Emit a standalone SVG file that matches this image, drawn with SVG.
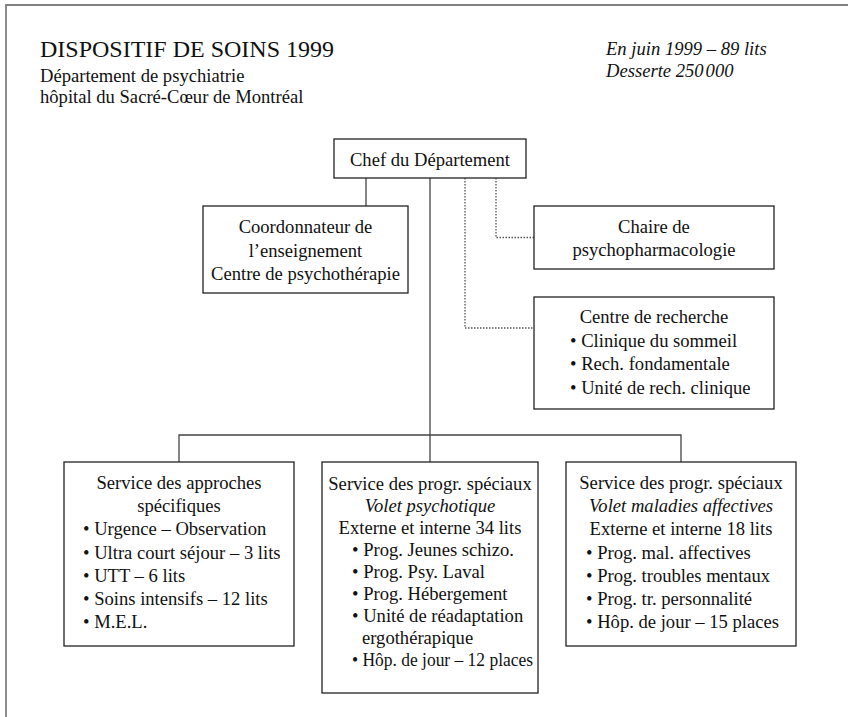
<svg xmlns="http://www.w3.org/2000/svg" width="848" height="717" viewBox="0 0 848 717">
<style>
text{font-family:"Liberation Serif","Times New Roman",serif;font-size:18.6px;fill:#111}
.c{text-anchor:middle}
.i{font-style:italic}
.box{fill:#fff;stroke:#222;stroke-width:1.3}
.ln{fill:none;stroke:#444;stroke-width:1.3}
.dt{fill:none;stroke:#555;stroke-width:1.3;stroke-dasharray:1.5 1.5}
</style>
<rect width="848" height="717" fill="#fff"/>
<path d="M6,717 V5 H848" fill="none" stroke="#808080" stroke-width="1.8"/>
<g id="header">
<text x="40" y="57" style="font-size:24px">DISPOSITIF DE SOINS 1999</text>
<text x="40" y="82">Département de psychiatrie</text>
<text x="40" y="103">hôpital du Sacré-Cœur de Montréal</text>
<text x="606" y="55" class="i">En juin 1999 – 89 lits</text>
<text x="606" y="77" class="i">Desserte 250<tspan style="font-size:8px"> </tspan>000</text>
</g>
<g id="connectors">
<path class="ln" d="M366,178 V206"/>
<path class="ln" d="M430,178 V462"/>
<path class="ln" d="M179,462 V435 H681 V462"/>
<path class="dt" d="M496,178 V237.5 H534"/>
<path class="dt" d="M465,178 V328 H534"/>
</g>
<g id="chef">
<rect class="box" x="334" y="139" width="192" height="39"/>
<text x="430" y="166" class="c">Chef du Département</text>
</g>
<g id="coordonnateur">
<rect class="box" x="203" y="206" width="205" height="87"/>
<text x="305.5" y="233" class="c">Coordonnateur de</text>
<text x="305.5" y="256.5" class="c">l’enseignement</text>
<text x="305.5" y="280" class="c">Centre de psychothérapie</text>
</g>
<g id="chaire">
<rect class="box" x="534" y="206" width="240" height="63"/>
<text x="654" y="233" class="c">Chaire de</text>
<text x="654" y="256" class="c">psychopharmacologie</text>
</g>
<g id="recherche">
<rect class="box" x="534" y="297" width="240" height="112"/>
<text x="654" y="323" class="c">Centre de recherche</text>
<text x="570" y="346.5">• Clinique du sommeil</text>
<text x="570" y="370">• Rech. fondamentale</text>
<text x="570" y="393.5">• Unité de rech. clinique</text>
</g>
<g id="approches">
<rect class="box" x="64" y="462" width="230" height="184"/>
<text x="179" y="489" class="c">Service des approches</text>
<text x="179" y="512.2" class="c">spécifiques</text>
<text x="83" y="535.4">• Urgence – Observation</text>
<text x="83" y="558.6">• Ultra court séjour – 3 lits</text>
<text x="83" y="581.8">• UTT – 6 lits</text>
<text x="83" y="605">• Soins intensifs – 12 lits</text>
<text x="83" y="628.2">• M.E.L.</text>
</g>
<g id="psychotique">
<rect class="box" x="322" y="462" width="216" height="231"/>
<text x="430" y="489.5" class="c">Service des progr. spéciaux</text>
<text x="430" y="511.6" class="c i">Volet psychotique</text>
<text x="430" y="533.7" class="c">Externe et interne 34 lits</text>
<text x="352" y="555.8">• Prog. Jeunes schizo.</text>
<text x="352" y="577.9">• Prog. Psy. Laval</text>
<text x="352" y="600">• Prog. Hébergement</text>
<text x="352" y="622.1">• Unité de réadaptation</text>
<text x="362" y="644.2">ergothérapique</text>
<text x="352" y="666.3" textLength="181" lengthAdjust="spacingAndGlyphs">• Hôp. de jour – 12 places</text>
</g>
<g id="affectives">
<rect class="box" x="566" y="462" width="230" height="184"/>
<text x="681" y="489" class="c">Service des progr. spéciaux</text>
<text x="681" y="512.2" class="c i">Volet maladies affectives</text>
<text x="681" y="535.4" class="c">Externe et interne 18 lits</text>
<text x="586" y="558.6">• Prog. mal. affectives</text>
<text x="586" y="581.8">• Prog. troubles mentaux</text>
<text x="586" y="605">• Prog. tr. personnalité</text>
<text x="586" y="628.2">• Hôp. de jour – 15 places</text>
</g>
</svg>
